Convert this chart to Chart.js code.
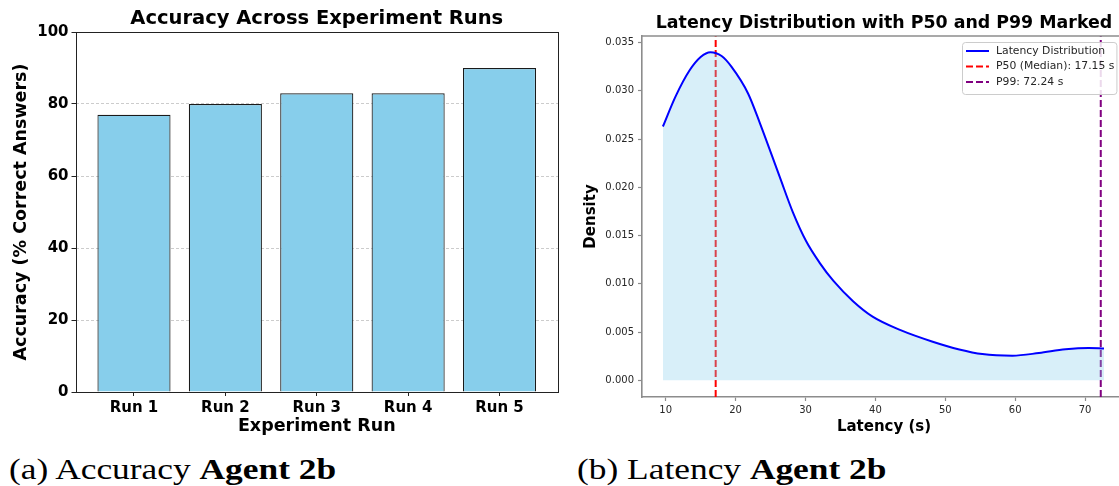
<!DOCTYPE html>
<html>
<head>
<meta charset="utf-8">
<script src="https://cdn.jsdelivr.net/npm/chart.js@4.4.1/dist/chart.umd.min.js"></script>
<style>
  html, body { margin: 0; padding: 0; background: #fff; }
  body { width: 1119px; height: 486px; overflow: hidden; position: relative; }
  canvas { position: absolute; top: 0; }
  #acc { left: 0; }
  #lat { left: 560px; }
  .caption { position: absolute; top: 451px; font-family: "Liberation Serif", serif; font-size: 29px; line-height: 36px;
             color: #000; white-space: nowrap; transform: scaleX(1.22); transform-origin: left center; }
  .caption b { font-weight: bold; }
</style>
</head>
<body>
<canvas id="acc" width="560" height="450"></canvas>
<canvas id="lat" width="570" height="450"></canvas>
<div class="caption" style="left:9px">(a) Accuracy <b>Agent 2b</b></div>
<div class="caption" style="left:577px">(b) Latency <b>Agent 2b</b></div>
<script>
// Left panel: accuracy per run
const runLabels = ['Run 1', 'Run 2', 'Run 3', 'Run 4', 'Run 5'];
const accuracy = [77, 80, 83, 83, 90];
const accuracyTicks = [0, 20, 40, 60, 80, 100];

// Right panel: latency KDE
const latencyX = [9.6, 11.4, 13.4, 15.0, 16.4, 18.0, 19.4, 21.8, 23.5, 26.3, 28.2, 30.1, 32.0,
  34.0, 36.8, 39.6, 43.6, 48.2, 52.0, 55.3, 59.6, 63.4, 67.2, 70.5, 72.7];
const latencyDensity = [0.0263, 0.0294, 0.0321, 0.0335, 0.0340, 0.0336, 0.0325, 0.0297, 0.0266, 0.0211, 0.0174, 0.0144, 0.0122,
  0.0103, 0.0082, 0.0066, 0.0052, 0.0040, 0.0032, 0.00272, 0.00255, 0.00283, 0.00322, 0.00336, 0.00330];
const p50 = 17.15;
const p99 = 72.24;
const latencyTicks = [10, 20, 30, 40, 50, 60, 70];
const densityTicks = [0, 0.005, 0.010, 0.015, 0.020, 0.025, 0.030, 0.035];
const densityMin = -0.00173;
const densityMax = 0.03568;

const bold = (size) => ({ family: 'DejaVu Sans', size, weight: 'bold' });

// Full black frame around the bar plot (matplotlib spines).
const frameBox = {
  id: 'frameBox',
  afterDatasetsDraw(chart) {
    const { ctx, chartArea: a } = chart;
    ctx.save();
    ctx.strokeStyle = '#222';
    ctx.lineWidth = 1;
    ctx.strokeRect(Math.round(a.left) + 0.5, Math.round(a.top) + 0.5,
      Math.round(a.right - a.left) - 1, Math.round(a.bottom - a.top));
    ctx.restore();
  }
};

new Chart(document.getElementById('acc'), {
  type: 'bar',
  data: {
    datasets: [{
      data: accuracy.map((v, i) => ({ x: i, y: v })),
      backgroundColor: '#87ceeb',
      borderColor: '#1a1a1a',
      borderWidth: 1.2,
      barPercentage: 0.8,
      categoryPercentage: 1
    }]
  },
  options: {
    responsive: false,
    animation: false,
    devicePixelRatio: 1,
    layout: { padding: { left: 0, right: 2, top: 0, bottom: 0 } },
    plugins: {
      legend: { display: false },
      tooltip: { enabled: false },
      title: {
        display: true,
        fullSize: false,
        text: 'Accuracy Across Experiment Runs',
        font: bold(19.5),
        color: '#000',
        padding: { top: 7, bottom: 1.6 }
      }
    },
    scales: {
      x: {
        type: 'linear',
        offset: false,
        min: -0.64,
        max: 4.64,
        afterBuildTicks: s => { s.ticks = runLabels.map((_, i) => ({ value: i })); },
        afterFit: s => { s.height = 58; },
        ticks: { callback: v => runLabels[v], font: bold(15), color: '#000', padding: 3, maxRotation: 0 },
        grid: { offset: false, drawOnChartArea: false, tickLength: 4, tickColor: '#222' },
        border: { display: false },
        title: { display: true, text: 'Experiment Run', font: bold(17.5), color: '#000', padding: { top: 0, bottom: 13.5 } }
      },
      y: {
        min: 0,
        max: 100,
        afterBuildTicks: s => { s.ticks = accuracyTicks.map(v => ({ value: v })); },
        afterFit: s => { s.width = 75.5; },
        ticks: { font: bold(15), color: '#000', padding: 3 },
        grid: { color: 'rgba(0,0,0,0.2)', tickLength: 4, tickColor: '#222', tickBorderDash: [] },
        border: { display: false, dash: [3, 2] },
        title: { display: true, text: 'Accuracy (% Correct Answers)', font: bold(17.5), color: '#000', padding: { top: 11, bottom: 0 } }
      }
    }
  },
  plugins: [frameBox]
});

// Top spine for the latency plot.
const topSpine = {
  id: 'topSpine',
  afterDatasetsDraw(chart) {
    const { ctx, chartArea: a } = chart;
    ctx.save();
    ctx.strokeStyle = '#8c8c8c';
    ctx.lineWidth = 1.6;
    ctx.beginPath();
    ctx.moveTo(a.left, a.top);
    ctx.lineTo(a.right + 10, a.top);
    ctx.stroke();
    ctx.restore();
  }
};

// matplotlib-style legend drawn inside the plot, upper right.
const insideLegend = {
  id: 'insideLegend',
  afterDatasetsDraw(chart) {
    const { ctx, chartArea: a } = chart;
    const items = chart.data.datasets;
    ctx.save();
    ctx.font = '10.8px "DejaVu Sans"';
    const textW = Math.max(...items.map(d => ctx.measureText(d.label).width));
    const w = 4 + 23 + 7 + textW + 2;
    const h = 52;
    const x0 = Math.round(a.right - 10 - w);
    const y0 = Math.round(a.top + 6);
    ctx.fillStyle = 'rgba(255,255,255,0.85)';
    ctx.strokeStyle = '#cccccc';
    ctx.lineWidth = 1;
    ctx.beginPath();
    ctx.roundRect(x0 + 0.5, y0 + 0.5, w, h, 3);
    ctx.fill();
    ctx.stroke();
    items.forEach((d, i) => {
      const y = y0 + 9 + i * 15.5;
      ctx.strokeStyle = d.borderColor;
      ctx.lineWidth = d.borderWidth;
      ctx.setLineDash(d.borderDash || []);
      ctx.beginPath();
      ctx.moveTo(x0 + 4, y);
      ctx.lineTo(x0 + 27, y);
      ctx.stroke();
      ctx.setLineDash([]);
      ctx.fillStyle = '#262626';
      ctx.textBaseline = 'middle';
      ctx.fillText(d.label, x0 + 34, y);
    });
    ctx.restore();
  }
};

new Chart(document.getElementById('lat'), {
  type: 'line',
  data: {
    datasets: [
      {
        label: 'Latency Distribution',
        data: latencyX.map((x, i) => ({ x, y: latencyDensity[i] })),
        borderColor: '#0000ff',
        borderWidth: 2,
        backgroundColor: 'rgba(135,206,235,0.32)',
        fill: 'origin',
        pointRadius: 0,
        cubicInterpolationMode: 'monotone'
      },
      {
        label: 'P50 (Median): ' + p50.toFixed(2) + ' s',
        data: [{ x: p50, y: densityMin }, { x: p50, y: densityMax }],
        borderColor: '#ff0000',
        borderWidth: 2,
        borderDash: [7, 3],
        pointRadius: 0,
        fill: false
      },
      {
        label: 'P99: ' + p99.toFixed(2) + ' s',
        data: [{ x: p99, y: densityMin }, { x: p99, y: densityMax }],
        borderColor: '#800080',
        borderWidth: 2,
        borderDash: [7, 3],
        pointRadius: 0,
        fill: false
      }
    ]
  },
  options: {
    responsive: false,
    animation: false,
    devicePixelRatio: 1,
    layout: { padding: { left: 0, right: 4, top: 0, bottom: 0 } },
    plugins: {
      legend: { display: false },
      tooltip: { enabled: false },
      title: {
        display: true,
        fullSize: false,
        text: 'Latency Distribution with P50 and P99 Marked',
        font: bold(17.4),
        color: '#000',
        padding: { top: 12.6, bottom: 2.5 }
      }
    },
    scales: {
      x: {
        type: 'linear',
        min: 6.61,
        max: 75.85,
        afterBuildTicks: s => { s.ticks = latencyTicks.map(v => ({ value: v })); },
        afterFit: s => { s.height = 53; },
        ticks: { font: { family: 'DejaVu Sans', size: 10 }, color: '#262626', padding: 3, maxRotation: 0 },
        grid: { drawOnChartArea: false, tickLength: 4, tickColor: '#8c8c8c', tickWidth: 1.2 },
        border: { display: true, color: '#8c8c8c', width: 1.6 },
        title: { display: true, text: 'Latency (s)', font: bold(15), color: '#000', padding: { top: 0, bottom: 14 } }
      },
      y: {
        min: densityMin,
        max: densityMax,
        afterBuildTicks: s => { s.ticks = densityTicks.map(v => ({ value: v })); },
        afterFit: s => { s.width = 82; },
        ticks: { callback: v => v.toFixed(3), font: { family: 'DejaVu Sans', size: 10 }, color: '#262626', padding: 4 },
        grid: { drawOnChartArea: false, tickLength: 4, tickColor: '#8c8c8c', tickWidth: 1.2 },
        border: { display: true, color: '#8c8c8c', width: 1.6 },
        title: { display: true, text: 'Density', font: bold(15), color: '#000', padding: { top: 22, bottom: 0 } }
      }
    }
  },
  plugins: [topSpine, insideLegend]
});
</script>
</body>
</html>
